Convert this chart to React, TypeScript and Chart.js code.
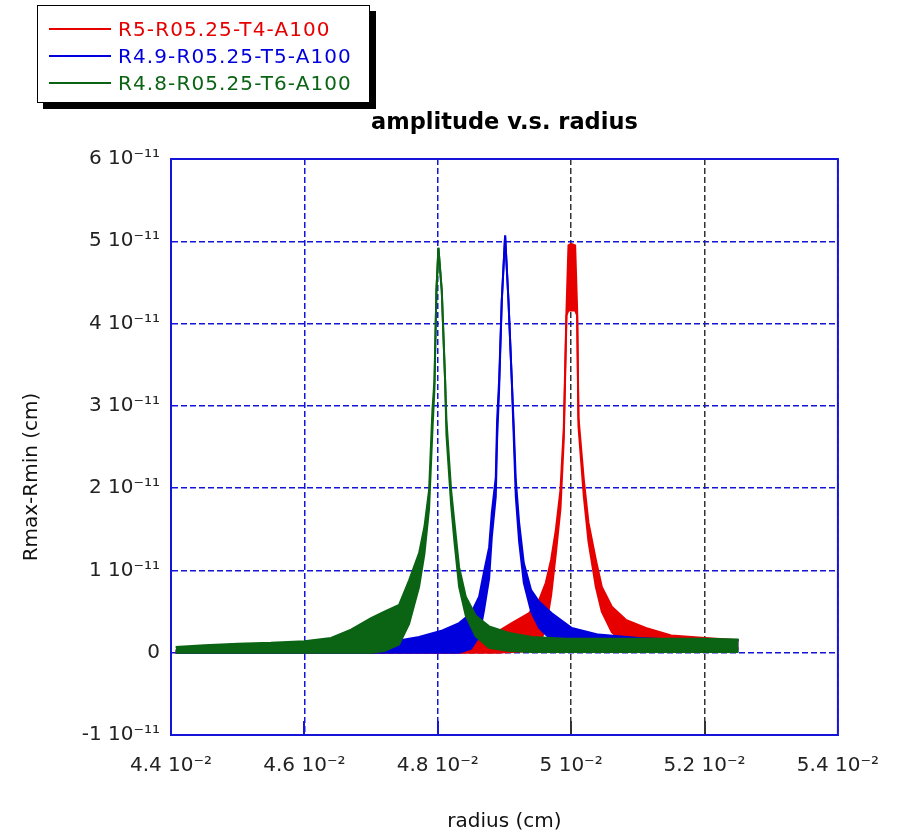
import React, { useEffect, useRef } from 'react';
import { Chart, registerables } from 'chart.js';

Chart.register(...registerables);

// Units: radius in 10^-2 cm, amplitude in 10^-11 cm
const chartTitle = 'amplitude v.s. radius';
const xTitle = 'radius (cm)';
const yTitle = 'Rmax-Rmin (cm)';
const xTickValues = [4.4, 4.6, 4.8, 5.0, 5.2, 5.4];
const yTickValues = [-1, 0, 1, 2, 3, 4, 5, 6];
const seriesLabels = ['R5-R05.25-T4-A100', 'R4.9-R05.25-T5-A100', 'R4.8-R05.25-T6-A100'];
const seriesColors = ['#e60000', '#0000dc', '#0a6414'];

const redX = [4.407, 4.6, 4.697, 4.75, 4.817, 4.857, 4.887, 4.911, 4.937, 4.952, 4.962, 4.97, 4.977, 4.984, 4.989, 4.993, 4.996, 5.0, 5.006, 5.009, 5.011, 5.019, 5.026, 5.037, 5.046, 5.061, 5.082, 5.112, 5.15, 5.201, 5.251];
const redUpper = [0.02, 0.03, 0.05, 0.06, 0.08, 0.15, 0.24, 0.36, 0.48, 0.64, 0.85, 1.13, 1.49, 1.98, 2.74, 4.16, 4.95, 4.97, 4.95, 4.16, 2.86, 2.1, 1.58, 1.13, 0.8, 0.56, 0.4, 0.3, 0.21, 0.18, 0.15];
const redLower = [0.0, 0.0, 0.0, 0.0, 0.0, 0.0, 0.0, 0.01, 0.02, 0.1, 0.3, 0.7, 1.2, 1.75, 2.6, 4.1, 4.16, 4.16, 4.16, 4.1, 2.75, 1.9, 1.35, 0.8, 0.5, 0.25, 0.1, 0.06, 0.05, 0.05, 0.05];

const blueX = [4.407, 4.5, 4.6, 4.65, 4.7, 4.742, 4.772, 4.807, 4.832, 4.85, 4.862, 4.869, 4.877, 4.881, 4.887, 4.889, 4.892, 4.896, 4.901, 4.906, 4.911, 4.914, 4.917, 4.922, 4.929, 4.94, 4.952, 4.971, 5.001, 5.041, 5.101, 5.15, 5.251];
const blueUpper = [0.03, 0.04, 0.06, 0.09, 0.12, 0.15, 0.19, 0.27, 0.36, 0.48, 0.68, 0.97, 1.28, 1.7, 2.13, 2.83, 3.31, 4.28, 5.07, 4.28, 3.31, 2.74, 2.1, 1.58, 1.09, 0.76, 0.62, 0.48, 0.3, 0.22, 0.18, 0.16, 0.15];
const blueLower = [0.0, 0.0, 0.0, 0.0, 0.0, 0.0, 0.0, 0.0, 0.0, 0.05, 0.2, 0.5, 0.9, 1.4, 1.9, 2.6, 3.2, 4.28, 5.07, 4.28, 3.31, 2.6, 1.9, 1.35, 0.85, 0.5, 0.3, 0.15, 0.06, 0.04, 0.03, 0.03, 0.03];

const greenX = [4.407, 4.45, 4.5, 4.55, 4.6, 4.64, 4.67, 4.7, 4.72, 4.742, 4.757, 4.772, 4.78, 4.787, 4.792, 4.795, 4.798, 4.801, 4.806, 4.811, 4.813, 4.82, 4.825, 4.832, 4.842, 4.857, 4.877, 4.907, 4.941, 4.992, 5.041, 5.1, 5.15, 5.2, 5.251];
const greenUpper = [0.07, 0.09, 0.11, 0.12, 0.14, 0.18, 0.28, 0.42, 0.5, 0.58, 0.88, 1.21, 1.53, 1.98, 2.95, 3.31, 4.4, 4.92, 4.4, 3.31, 2.83, 1.98, 1.58, 1.04, 0.68, 0.45, 0.32, 0.24, 0.19, 0.17, 0.17, 0.17, 0.17, 0.17, 0.16];
const greenLower = [0.0, 0.0, 0.0, 0.0, 0.0, 0.0, 0.0, 0.0, 0.02, 0.1, 0.35, 0.8, 1.2, 1.75, 2.7, 3.2, 4.4, 4.92, 4.4, 3.31, 2.65, 1.8, 1.35, 0.8, 0.45, 0.2, 0.06, 0.02, 0.01, 0.01, 0.01, 0.01, 0.01, 0.01, 0.01];

const FONT = 'DejaVu Sans';
const GRID_BLUE = '#1515d8';
const GRID_DARK = '#333333';

function pts(xs: number[], ys: number[]) {
  return xs.map((x, i) => ({ x, y: ys[i] }));
}

function band(label: string, color: string, xs: number[], up: number[], low: number[]) {
  return [
    { label, data: pts(xs, up), borderColor: color, backgroundColor: color, borderWidth: 2, pointRadius: 0, fill: '+1', tension: 0 },
    { label: label + ' (lower)', data: pts(xs, low), borderColor: color, backgroundColor: color, borderWidth: 2, pointRadius: 0, fill: false, tension: 0 },
  ];
}

function fmtX(v: number) {
  return `${Number(v.toFixed(1))} 10\u207B\u00B2`;
}
function fmtY(v: number) {
  return v === 0 ? '0' : `${v} 10\u207B\u00B9\u00B9`;
}
function xGridColor(v: number) {
  return v > 4.95 && v < 5.35 ? GRID_DARK : GRID_BLUE;
}

const framePlugin = {
  id: 'frame',
  afterDraw(chart: any) {
    const { ctx, chartArea: a } = chart;
    const xs = chart.scales.x;
    ctx.save();
    ctx.setLineDash([]);
    // small solid inward tick marks at the bottom
    ctx.lineWidth = 2;
    xTickValues.slice(1, -1).forEach((v) => {
      const px = Math.round(xs.getPixelForValue(v));
      ctx.strokeStyle = xGridColor(v);
      ctx.beginPath();
      ctx.moveTo(px, a.bottom);
      ctx.lineTo(px, a.bottom - 14);
      ctx.stroke();
    });
    ctx.strokeStyle = GRID_BLUE;
    ctx.lineWidth = 2;
    ctx.strokeRect(a.left, a.top, a.right - a.left, a.bottom - a.top);
    // y-axis title
    ctx.translate(32, 477);
    ctx.rotate(-Math.PI / 2);
    ctx.font = `20px "${FONT}"`;
    ctx.fillStyle = '#111';
    ctx.textAlign = 'center';
    ctx.textBaseline = 'middle';
    ctx.fillText(yTitle, 0, 0);
    ctx.restore();
  },
};

export default function App() {
  const ref = useRef<HTMLCanvasElement>(null);
  useEffect(() => {
    if (!ref.current) return;
    const chart = new Chart(ref.current, {
      type: 'line',
      data: {
        datasets: [
          ...band(seriesLabels[2], seriesColors[2], greenX, greenUpper, greenLower),
          ...band(seriesLabels[1], seriesColors[1], blueX, blueUpper, blueLower),
          ...band(seriesLabels[0], seriesColors[0], redX, redUpper, redLower),
        ],
      },
      options: {
        animation: false,
        responsive: true,
        maintainAspectRatio: false,
        layout: { padding: { left: 0, right: 58, top: 0, bottom: 0 } },
        plugins: {
          legend: { display: false },
          tooltip: { enabled: false },
          title: {
            display: true,
            text: chartTitle,
            fullSize: false,
            color: '#000',
            font: { family: FONT, size: 22.5, weight: 'bold' },
            padding: { top: 110, bottom: 22 },
          },
        },
        scales: {
          x: {
            type: 'linear',
            min: 4.4,
            max: 5.4,
            z: 1,
            afterBuildTicks: (s: any) => { s.ticks = xTickValues.map((v) => ({ value: v })); },
            afterFit: (s: any) => { s.height = 101; },
            ticks: { callback: (v: any) => fmtX(Number(v)), color: '#222', font: { family: FONT, size: 20 }, padding: 19, maxRotation: 0, autoSkip: false },
            grid: {
              drawTicks: false,
              lineWidth: 1.5,
              color: (c: any) => (c.tick ? xGridColor(c.tick.value) : GRID_BLUE),
            },
            border: { display: true, color: GRID_BLUE, width: 2, dash: [6, 3] },
            title: { display: true, text: xTitle, color: '#111', font: { family: FONT, size: 20 }, padding: { top: 0, bottom: 2 } },
          },
          y: {
            type: 'linear',
            min: -1,
            max: 6,
            z: 1,
            afterBuildTicks: (s: any) => { s.ticks = yTickValues.map((v) => ({ value: v })); },
            afterFit: (s: any) => { s.width = 171; },
            ticks: { callback: (v: any) => fmtY(Number(v)), color: '#222', font: { family: FONT, size: 20 }, padding: 11 },
            grid: { drawTicks: false, lineWidth: 1.5, color: GRID_BLUE },
            border: { display: true, color: GRID_BLUE, width: 2, dash: [6, 3] },
            title: { display: false },
          },
        },
      },
      plugins: [framePlugin],
    } as any);
    return () => chart.destroy();
  }, []);

  const rowTops = [23, 50, 77];
  const legendOrder = [0, 1, 2];
  return (
    <div style={{ position: 'absolute', left: 0, top: 0, width: 898, height: 836, background: '#fff' }}>
      <canvas ref={ref} />
      <div
        style={{
          position: 'absolute',
          left: 37,
          top: 5,
          width: 333,
          height: 98,
          boxSizing: 'border-box',
          border: '1.5px solid #000',
          boxShadow: '6px 6px 0 #000',
          background: '#fff',
          fontFamily: FONT,
          fontSize: 20,
          letterSpacing: '1.1px',
        }}
      >
        {legendOrder.map((i, r) => (
          <div key={i} style={{ position: 'absolute', left: 0, top: rowTops[r] - 14, height: 28, width: '100%' }}>
            <div style={{ position: 'absolute', left: 11, top: 13, width: 62, height: 2, background: seriesColors[i] }} />
            <div style={{ position: 'absolute', left: 80, top: 0, lineHeight: '28px', whiteSpace: 'nowrap', color: seriesColors[i] }}>
              {seriesLabels[i]}
            </div>
          </div>
        ))}
      </div>
    </div>
  );
}
